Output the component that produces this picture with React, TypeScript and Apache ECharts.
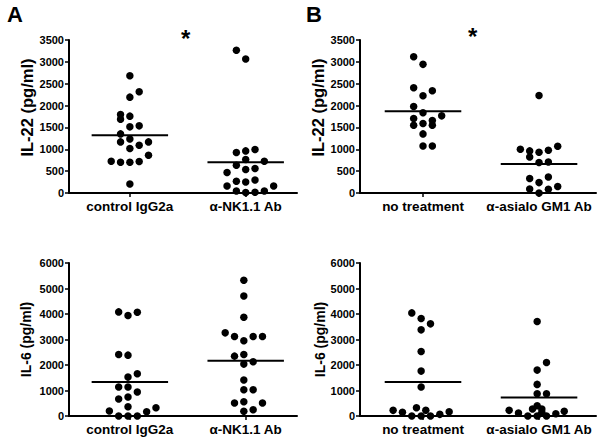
import React, { useEffect, useRef } from "react";
import * as echarts from "echarts";

// ---- data ----
const topCatsA = ["control IgG2a", "\u03b1-NK1.1 Ab"];
const topCatsB = ["no treatment", "\u03b1-asialo GM1 Ab"];

// Panel A: IL-22
const aControlIL22 = [2682, 2315, 2193, 1797, 1758, 1689, 1513, 1536, 1352, 1238, 1169, 1169, 1017, 1093, 864, 727, 704, 704, 720, 206];
const aControlIL22Off = [0, 1, 0, -1, 0, -1, 0, 1, -1, 0, -1, 2, 0, 1, 2, -2, -1, 0, 1, 0];
const aNKIL22 = [3264, 3064, 926, 963, 995, 765, 635, 727, 467, 536, 559, 268, 252, 298, 160, 160, 46, 9, 16, 46];
const aNKIL22Off = [-1, 0, -1, 0, 1, 0, -1, 2, -2, 0, 1, -1, 0, 1, -2, 3, -1, 0, 1, 2];
const aMeansIL22 = [1322, 704];

// Panel B: IL-22
const bNoTxIL22 = [3117, 2943, 2407, 2338, 2223, 1980, 1834, 1765, 1705, 1659, 1552, 1590, 1552, 1352, 1077, 1077];
const bNoTxIL22Off = [-1, 0, -1, 1, 0, -1, 0, 2, -1, 1, -1, 0, 1, 0, 0, 1];
const bAsialoIL22 = [2232, 1001, 963, 933, 979, 1070, 825, 697, 711, 330, 367, 238, 92, 84, 147, 0];
const bAsialoIL22Off = [0, -2, -1, 0, 1, 2, -1, 0, 1, -1, 1, 0, -1, 1, 2, 0];
const bMeansIL22 = [1872, 665];

// Panel A: IL-6
const aControlIL6 = [4082, 3939, 4070, 2413, 2387, 1526, 1656, 1135, 1135, 939, 665, 744, 365, 196, 170, 326, 0, 0, 0];
const aControlIL6Off = [-1.2, -0.2, 0.8, -1.2, -0.2, -0.2, 0.8, -1.2, -0.2, 0.8, -1.2, -0.2, -0.2, -2.2, 1.8, 2.8, -1.2, -0.2, 0.8];
const aNKIL6 = [5322, 4709, 3874, 3261, 3117, 2948, 3117, 3117, 2348, 2413, 2035, 2126, 1409, 1031, 1031, 509, 561, 509, 183, 248];
const aNKIL6Off = [-0.2, -0.2, -0.2, -2.2, -1.2, -0.2, 0.8, 1.8, -1.2, -0.2, -0.2, 0.8, -0.2, -0.2, 0.8, -1.2, -0.2, 1.8, -0.2, 0.8];
const aMeansIL6 = [1330, 2165];

// Panel B: IL-6
const bNoTxIL6 = [4043, 3822, 3613, 3378, 2531, 1761, 1135, 222, 144, 326, 222, 170, 0, 0, 0, 65];
const bNoTxIL6Off = [-1.2, -0.2, 0.8, -0.2, -0.2, -0.2, -0.2, -3.2, -2.2, -0.7, 0.3, 2.8, -1.2, -0.2, 0.8, 1.8];
const bAsialoIL6 = [3704, 2100, 1800, 1239, 874, 874, 404, 274, 274, 222, 117, 144, 0, 0, 0, 91, 183];
const bAsialoIL6Off = [-0.2, 0.8, -0.2, -0.2, -0.2, 0.8, -0.2, -0.7, 0.3, -3.2, -2.2, 0.3, -1.2, -0.2, 0.8, 1.8, 2.7];
const bMeansIL6 = [1330, 730];

const il22Ticks = { min: 0, max: 3500, interval: 500 };
const il6Ticks = { min: 0, max: 6000, interval: 1000 };

// ---- style ----
const FONT = '"Liberation Sans", Arial, Helvetica, sans-serif';
const STEP = 0.0805; // horizontal spacing of dots, in category units
const HALF_MEAN = 0.33;
const DOT = 7.5;

export default function App() {
  const ref = useRef<HTMLDivElement>(null);

  useEffect(() => {
    if (!ref.current) return;
    const chart = echarts.init(ref.current, null, { renderer: "svg" });

    const grids = [
      { left: 69, top: 40, right: 306, bottom: 252 },
      { left: 360, top: 40, right: 7, bottom: 252 },
      { left: 69, top: 263, right: 306, bottom: 29 },
      { left: 360, top: 263, right: 7, bottom: 29 },
    ];
    const xRanges = [
      [0.4745, 2.443],
      [0.457, 2.491],
      [0.4745, 2.443],
      [0.457, 2.491],
    ];
    const cats = [topCatsA, topCatsB, topCatsA, topCatsB];
    const yCfg = [il22Ticks, il22Ticks, il6Ticks, il6Ticks];
    const yNames = ["IL-22 (pg/ml)", "IL-22 (pg/ml)", "IL-6 (pg/ml)", "IL-6 (pg/ml)"];
    const nameSizes = [16.5, 16.5, 14, 14];
    const namePads = [
      [0, 0, 0, 18],
      [0, 0, 0, 18],
      [0, 0, 0, 0],
      [0, 0, 0, 0],
    ];
    const nameGaps = [34, 31, 36, 33];
    const groups = [
      [[aControlIL22, aControlIL22Off], [aNKIL22, aNKIL22Off], aMeansIL22],
      [[bNoTxIL22, bNoTxIL22Off], [bAsialoIL22, bAsialoIL22Off], bMeansIL22],
      [[aControlIL6, aControlIL6Off], [aNKIL6, aNKIL6Off], aMeansIL6],
      [[bNoTxIL6, bNoTxIL6Off], [bAsialoIL6, bAsialoIL6Off], bMeansIL6],
    ] as any[];

    const xAxis = grids.map((_, i) => ({
      type: "value",
      gridIndex: i,
      min: xRanges[i][0],
      max: xRanges[i][1],
      axisLine: { show: true, lineStyle: { color: "#000", width: 2 } },
      axisTick: { show: true, customValues: [1, 2], length: 4, lineStyle: { color: "#000", width: 1.5 } },
      axisLabel: {
        customValues: [1, 2],
        formatter: (v: number) => cats[i][Math.round(v) - 1] || "",
        fontFamily: FONT,
        fontWeight: "bold",
        fontSize: 13.5,
        color: "#000",
        margin: 6,
      },
      splitLine: { show: false },
    }));

    const yAxis = grids.map((_, i) => ({
      type: "value",
      gridIndex: i,
      min: yCfg[i].min,
      max: yCfg[i].max,
      interval: yCfg[i].interval,
      name: yNames[i],
      nameLocation: "middle",
      nameGap: nameGaps[i],
      nameTextStyle: {
        fontFamily: FONT,
        fontWeight: "bold",
        fontSize: nameSizes[i],
        color: "#000",
        padding: namePads[i],
      },
      axisLine: { show: true, lineStyle: { color: "#000", width: 2 } },
      axisTick: { show: true, length: 4, lineStyle: { color: "#000", width: 1.5 } },
      axisLabel: {
        formatter: (v: number) => String(v),
        fontFamily: FONT,
        fontWeight: "bold",
        fontSize: 11,
        color: "#000",
        margin: 5,
      },
      splitLine: { show: false },
    }));

    const series: any[] = [];
    groups.forEach((g, i) => {
      [g[0], g[1]].forEach((grp: any, c: number) => {
        const cat = c + 1;
        series.push({
          type: "scatter",
          xAxisIndex: i,
          yAxisIndex: i,
          clip: false,
          symbol: "circle",
          symbolSize: DOT,
          itemStyle: { color: "#000", opacity: 1 },
          data: grp[0].map((v: number, k: number) => [cat + grp[1][k] * STEP, v]),
        });
        series.push({
          type: "line",
          xAxisIndex: i,
          yAxisIndex: i,
          symbol: "none",
          lineStyle: { color: "#000", width: 2 },
          data: [
            [cat - HALF_MEAN, g[2][c]],
            [cat + HALF_MEAN, g[2][c]],
          ],
        });
      });
    });

    chart.setOption({
      animation: false,
      backgroundColor: "#fff",
      grid: grids,
      xAxis,
      yAxis,
      series,
      graphic: [
        { type: "text", left: 7, top: 3, style: { text: "A", font: `bold 22px ${FONT}`, fill: "#000" } },
        { type: "text", left: 306, top: 3, style: { text: "B", font: `bold 22px ${FONT}`, fill: "#000" } },
        { type: "text", left: 181, top: 26, style: { text: "*", font: `bold 24px ${FONT}`, fill: "#000" } },
        { type: "text", left: 468, top: 24, style: { text: "*", font: `bold 24px ${FONT}`, fill: "#000" } },
      ],
    });

    return () => chart.dispose();
  }, []);

  return (
    <div
      ref={ref}
      style={{ position: "fixed", left: 0, top: 0, width: 603, height: 445, background: "#fff" }}
    />
  );
}
